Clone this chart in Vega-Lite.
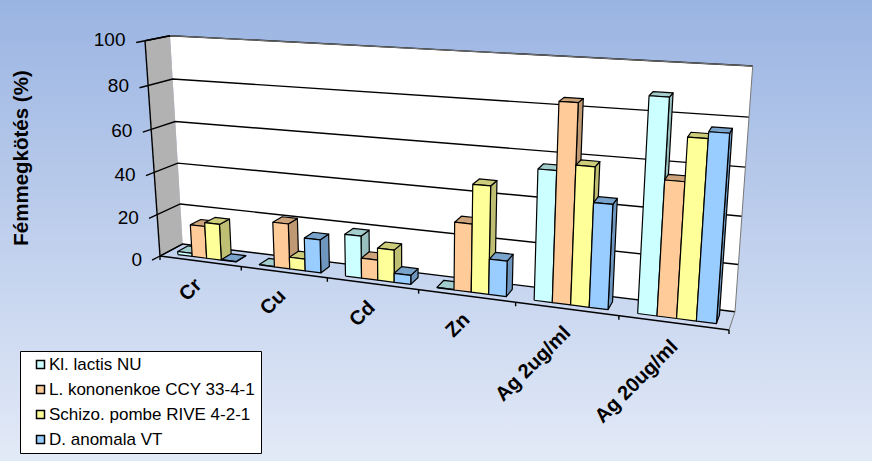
{
"$schema":"https://vega.github.io/schema/vega-lite/v6.json",
"width":872,"height":461,
"autosize":{"type":"fit","contains":"padding"},
"padding":0,
"view":{"stroke":null,"fill":{"gradient":"linear","x1":0,"y1":0,"x2":0,"y2":1,"stops":[{"offset":0,"color":"#9ab4e2"},{"offset":1,"color":"#e3eaf7"}]}},
"config":{"font":"Liberation Sans"},
"datasets":{
"bars":[
{"cat":0,"ser":0,"series":"Kl. lactis NU","category":"Cr","value":1.5},
{"cat":0,"ser":1,"series":"L. kononenkoe CCY 33-4-1","category":"Cr","value":15.3},
{"cat":0,"ser":2,"series":"Schizo. pombe RIVE 4-2-1","category":"Cr","value":17.1},
{"cat":0,"ser":3,"series":"D. anomala VT","category":"Cr","value":0.2},
{"cat":1,"ser":0,"series":"Kl. lactis NU","category":"Cu","value":0.2},
{"cat":1,"ser":1,"series":"L. kononenkoe CCY 33-4-1","category":"Cu","value":21},
{"cat":1,"ser":2,"series":"Schizo. pombe RIVE 4-2-1","category":"Cu","value":5.5},
{"cat":1,"ser":3,"series":"D. anomala VT","category":"Cu","value":15.3},
{"cat":2,"ser":0,"series":"Kl. lactis NU","category":"Cd","value":19.2},
{"cat":2,"ser":1,"series":"L. kononenkoe CCY 33-4-1","category":"Cd","value":9.2},
{"cat":2,"ser":2,"series":"Schizo. pombe RIVE 4-2-1","category":"Cd","value":14.6},
{"cat":2,"ser":3,"series":"D. anomala VT","category":"Cd","value":4.1},
{"cat":3,"ser":0,"series":"Kl. lactis NU","category":"Zn","value":0.2},
{"cat":3,"ser":1,"series":"L. kononenkoe CCY 33-4-1","category":"Zn","value":30},
{"cat":3,"ser":2,"series":"Schizo. pombe RIVE 4-2-1","category":"Zn","value":47.1},
{"cat":3,"ser":3,"series":"D. anomala VT","category":"Zn","value":15.6},
{"cat":4,"ser":0,"series":"Kl. lactis NU","category":"Ag 2ug/ml","value":56},
{"cat":4,"ser":1,"series":"L. kononenkoe CCY 33-4-1","category":"Ag 2ug/ml","value":84.2},
{"cat":4,"ser":2,"series":"Schizo. pombe RIVE 4-2-1","category":"Ag 2ug/ml","value":58.9},
{"cat":4,"ser":3,"series":"D. anomala VT","category":"Ag 2ug/ml","value":44.2},
{"cat":5,"ser":0,"series":"Kl. lactis NU","category":"Ag 20ug/ml","value":88.7},
{"cat":5,"ser":1,"series":"L. kononenkoe CCY 33-4-1","category":"Ag 20ug/ml","value":56},
{"cat":5,"ser":2,"series":"Schizo. pombe RIVE 4-2-1","category":"Ag 20ug/ml","value":73.6},
{"cat":5,"ser":3,"series":"D. anomala VT","category":"Ag 20ug/ml","value":76.3}
],
"cats":[{"cat":0,"label":"Cr"},{"cat":1,"label":"Cu"},{"cat":2,"label":"Cd"},{"cat":3,"label":"Zn"},{"cat":4,"label":"Ag 2ug/ml"},{"cat":5,"label":"Ag 20ug/ml"}],
"ticks":[{"cat":0},{"cat":1},{"cat":2},{"cat":3},{"cat":4},{"cat":5},{"cat":6}],
"levels":[{"v":0},{"v":20},{"v":40},{"v":60},{"v":80},{"v":100}],
"walls":[
{"wall":"back","k":0,"u":0,"d":1,"h":0},{"wall":"back","k":1,"u":1,"d":1,"h":0},{"wall":"back","k":2,"u":1,"d":1,"h":1},{"wall":"back","k":3,"u":0,"d":1,"h":1},{"wall":"back","k":4,"u":0,"d":1,"h":0},
{"wall":"left","k":0,"u":0,"d":0,"h":0},{"wall":"left","k":1,"u":0,"d":1,"h":0},{"wall":"left","k":2,"u":0,"d":1,"h":1},{"wall":"left","k":3,"u":0,"d":0,"h":1},{"wall":"left","k":4,"u":0,"d":0,"h":0}
],
"edges":[
{"e":"front","k":0,"u":0,"d":0,"h":0},{"e":"front","k":1,"u":1,"d":0,"h":0},
{"e":"leftaxis","k":0,"u":0,"d":0,"h":0},{"e":"leftaxis","k":1,"u":0,"d":0,"h":1},
{"e":"lefttop","k":0,"u":0,"d":0,"h":1},{"e":"lefttop","k":1,"u":0,"d":1,"h":1},
{"e":"leftfloor","k":0,"u":0,"d":0,"h":0},{"e":"leftfloor","k":1,"u":0,"d":1,"h":0}
],
"greyedges":[
{"e":"top","k":0,"u":0,"d":1,"h":1},{"e":"top","k":1,"u":1,"d":1,"h":1},
{"e":"rightwall","k":0,"u":1,"d":1,"h":1},{"e":"rightwall","k":1,"u":1,"d":1,"h":0},
{"e":"rightfloor","k":0,"u":1,"d":1,"h":0},{"e":"rightfloor","k":1,"u":1,"d":0,"h":0}
]
},
"layer":[
{"data":{"name":"walls"},
"transform":[
{"calculate":"datum.u/(datum.u+1.2*(1-datum.u))","as":"su"},
{"calculate":"datum.h/(datum.h+1.05*(1-datum.h))","as":"sh"},
{"calculate":"lerp([lerp([160+569*datum.su,182.7+552.3*datum.su],datum.d),lerp([145+602.5*datum.su,170+582.7*datum.su],datum.d)],datum.sh)","as":"px"},
{"calculate":"lerp([lerp([256+74*datum.su,244+67.7*datum.su],datum.d),lerp([40.7+33.3*datum.su,35.7+30.3*datum.su],datum.d)],datum.sh)","as":"py"}],
"mark":{"type":"line","strokeWidth":0,"interpolate":"linear"},
"encoding":{
"x":{"field":"px","type":"quantitative","scale":{"domain":[0,872],"nice":false,"zero":false},"axis":null},
"y":{"field":"py","type":"quantitative","scale":{"domain":[0,461],"reverse":true,"nice":false,"zero":false},"axis":{"title":"Fémmegkötés (%)","titleX":31.5,"titleY":157.5,"titleFont":"Liberation Sans","titleFontSize":20.5,"titleFontWeight":"bold","titleColor":"#000","labels":false,"ticks":false,"domain":false,"grid":false}},
"detail":{"field":"wall"},
"order":{"field":"k","type":"quantitative"},
"fill":{"field":"wall","type":"nominal","scale":{"domain":["back","left"],"range":["#ffffff","#b2b2b2"]},"legend":null}
}},
{"data":{"name":"levels"},
"transform":[
{"calculate":"[{k:0,u:0,d:0},{k:1,u:0,d:1},{k:2,u:1,d:1}]","as":"pt"},
{"flatten":["pt"]},
{"calculate":"datum.pt.u","as":"u"},{"calculate":"datum.pt.d","as":"d"},{"calculate":"datum.pt.k","as":"k"},
{"calculate":"datum.v/100","as":"h"},
{"calculate":"datum.u/(datum.u+1.2*(1-datum.u))","as":"su"},
{"calculate":"datum.h/(datum.h+1.05*(1-datum.h))","as":"sh"},
{"calculate":"lerp([lerp([160+569*datum.su,182.7+552.3*datum.su],datum.d),lerp([145+602.5*datum.su,170+582.7*datum.su],datum.d)],datum.sh)","as":"px"},
{"calculate":"lerp([lerp([256+74*datum.su,244+67.7*datum.su],datum.d),lerp([40.7+33.3*datum.su,35.7+30.3*datum.su],datum.d)],datum.sh)","as":"py"}],
"mark":{"type":"line","color":"#000","strokeWidth":1.4},
"encoding":{"x":{"field":"px","type":"quantitative"},"y":{"field":"py","type":"quantitative"},"detail":{"field":"v"},"order":{"field":"k","type":"quantitative"}}},
{"data":{"name":"greyedges"},
"transform":[
{"calculate":"datum.u/(datum.u+1.2*(1-datum.u))","as":"su"},
{"calculate":"datum.h/(datum.h+1.05*(1-datum.h))","as":"sh"},
{"calculate":"lerp([lerp([160+569*datum.su,182.7+552.3*datum.su],datum.d),lerp([145+602.5*datum.su,170+582.7*datum.su],datum.d)],datum.sh)","as":"px"},
{"calculate":"lerp([lerp([256+74*datum.su,244+67.7*datum.su],datum.d),lerp([40.7+33.3*datum.su,35.7+30.3*datum.su],datum.d)],datum.sh)","as":"py"}],
"mark":{"type":"line","color":"#777","strokeWidth":1},
"encoding":{"x":{"field":"px","type":"quantitative"},"y":{"field":"py","type":"quantitative"},"detail":{"field":"e"},"order":{"field":"k","type":"quantitative"}}},
{"data":{"name":"edges"},
"transform":[
{"calculate":"datum.u/(datum.u+1.2*(1-datum.u))","as":"su"},
{"calculate":"datum.h/(datum.h+1.05*(1-datum.h))","as":"sh"},
{"calculate":"lerp([lerp([160+569*datum.su,182.7+552.3*datum.su],datum.d),lerp([145+602.5*datum.su,170+582.7*datum.su],datum.d)],datum.sh)","as":"px"},
{"calculate":"lerp([lerp([256+74*datum.su,244+67.7*datum.su],datum.d),lerp([40.7+33.3*datum.su,35.7+30.3*datum.su],datum.d)],datum.sh)","as":"py"}],
"mark":{"type":"line","color":"#000","strokeWidth":1.4},
"encoding":{"x":{"field":"px","type":"quantitative"},"y":{"field":"py","type":"quantitative"},"detail":{"field":"e"},"order":{"field":"k","type":"quantitative"}}},
{"data":{"name":"levels"},
"transform":[
{"calculate":"[{k:0,d:0},{k:1,d:-0.35}]","as":"pt"},
{"flatten":["pt"]},
{"calculate":"datum.pt.d","as":"d"},{"calculate":"datum.pt.k","as":"k"},
{"calculate":"datum.v/100","as":"h"},
{"calculate":"datum.h/(datum.h+1.05*(1-datum.h))","as":"sh"},
{"calculate":"lerp([lerp([160,182.7],datum.d),lerp([145,170],datum.d)],datum.sh)","as":"px"},
{"calculate":"lerp([lerp([256,244],datum.d),lerp([40.7,35.7],datum.d)],datum.sh)","as":"py"}],
"mark":{"type":"line","color":"#000","strokeWidth":1.4},
"encoding":{"x":{"field":"px","type":"quantitative"},"y":{"field":"py","type":"quantitative"},"detail":{"field":"v"},"order":{"field":"k","type":"quantitative"}}},
{"data":{"name":"levels"},
"transform":[
{"calculate":"datum.v/100","as":"h"},
{"calculate":"datum.h/(datum.h+1.05*(1-datum.h))","as":"sh"},
{"calculate":"lerp([lerp([160,182.7],-0.7),lerp([145,170],-0.7)],datum.sh)","as":"px"},
{"calculate":"lerp([lerp([256,244],-0.7),lerp([40.7,35.7],-0.7)],datum.sh)","as":"py"}],
"mark":{"type":"text","align":"right","baseline":"middle","font":"Liberation Sans","fontSize":19,"color":"#000","dx":-2,"dy":-4},
"encoding":{"x":{"field":"px","type":"quantitative"},"y":{"field":"py","type":"quantitative"},"text":{"field":"v","type":"nominal"}}},
{"data":{"name":"ticks"},
"transform":[
{"calculate":"[{k:0},{k:1}]","as":"pt"},
{"flatten":["pt"]},
{"calculate":"datum.pt.k","as":"k"},
{"calculate":"datum.cat/6","as":"u"},
{"calculate":"datum.u/(datum.u+1.2*(1-datum.u))","as":"su"},
{"calculate":"160+569*datum.su","as":"px"},
{"calculate":"256+74*datum.su+datum.k*4","as":"py"}],
"mark":{"type":"line","color":"#000","strokeWidth":1.4},
"encoding":{"x":{"field":"px","type":"quantitative"},"y":{"field":"py","type":"quantitative"},"detail":{"field":"cat"},"order":{"field":"k","type":"quantitative"}}},
{"data":{"name":"cats"},
"transform":[
{"calculate":"(datum.cat+0.5)/6","as":"u"},
{"calculate":"datum.u/(datum.u+1.2*(1-datum.u))","as":"su"},
{"calculate":"160+569*datum.su-4*(1-datum.su)","as":"px"},
{"calculate":"256+74*datum.su+23","as":"py"}],
"mark":{"type":"text","align":"right","baseline":"middle","angle":315,"font":"Liberation Sans","fontSize":20,"fontWeight":"bold","color":"#000","dx":3},
"encoding":{"x":{"field":"px","type":"quantitative"},"y":{"field":"py","type":"quantitative"},"text":{"field":"label","type":"nominal"}}},
{"data":{"name":"bars"},
"transform":[
{"calculate":"[{f:'side',k:0,a:1,b:0.25,c:0},{f:'side',k:1,a:1,b:0.72,c:0},{f:'side',k:2,a:1,b:0.72,c:1},{f:'side',k:3,a:1,b:0.25,c:1},{f:'side',k:4,a:1,b:0.25,c:0},{f:'top',k:0,a:0,b:0.25,c:1},{f:'top',k:1,a:1,b:0.25,c:1},{f:'top',k:2,a:1,b:0.72,c:1},{f:'top',k:3,a:0,b:0.72,c:1},{f:'top',k:4,a:0,b:0.25,c:1},{f:'front',k:0,a:0,b:0.25,c:0},{f:'front',k:1,a:1,b:0.25,c:0},{f:'front',k:2,a:1,b:0.25,c:1},{f:'front',k:3,a:0,b:0.25,c:1},{f:'front',k:4,a:0,b:0.25,c:0}]","as":"pt"},
{"flatten":["pt"]},
{"calculate":"datum.pt.k","as":"k"},
{"calculate":"datum.pt.b","as":"d"},
{"calculate":"datum.cat+'-'+datum.ser+'-'+datum.pt.f","as":"face"},
{"calculate":"datum.pt.f=='front'?datum.series:datum.series+'|'+datum.pt.f","as":"shade"},
{"calculate":"(datum.cat+0.155+(datum.ser+datum.pt.a)*0.18)/6","as":"u"},
{"calculate":"datum.pt.c*datum.value/100","as":"h"},
{"calculate":"datum.u/(datum.u+1.2*(1-datum.u))","as":"su"},
{"calculate":"datum.h/(datum.h+1.05*(1-datum.h))","as":"sh"},
{"calculate":"lerp([lerp([160+569*datum.su,182.7+552.3*datum.su],datum.d),lerp([145+602.5*datum.su,170+582.7*datum.su],datum.d)],datum.sh)","as":"px"},
{"calculate":"lerp([lerp([256+74*datum.su,244+67.7*datum.su],datum.d),lerp([40.7+33.3*datum.su,35.7+30.3*datum.su],datum.d)],datum.sh)","as":"py"}],
"mark":{"type":"line","stroke":"#000","strokeWidth":1.2,"strokeJoin":"round"},
"encoding":{
"x":{"field":"px","type":"quantitative"},
"y":{"field":"py","type":"quantitative"},
"detail":{"field":"face"},
"order":{"field":"k","type":"quantitative"},
"fill":{"field":"shade","type":"nominal","scale":{"domain":["Kl. lactis NU","L. kononenkoe CCY 33-4-1","Schizo. pombe RIVE 4-2-1","D. anomala VT","Kl. lactis NU|side","L. kononenkoe CCY 33-4-1|side","Schizo. pombe RIVE 4-2-1|side","D. anomala VT|side","Kl. lactis NU|top","L. kononenkoe CCY 33-4-1|top","Schizo. pombe RIVE 4-2-1|top","D. anomala VT|top"],"range":["#ccffff","#ffcc99","#ffff99","#99ccff","#99bfbf","#bf9973","#bfbf73","#6f96bf","#a3cccc","#cca37a","#cccc7a","#7aa3cc"]},
"legend":{"values":["Kl. lactis NU","L. kononenkoe CCY 33-4-1","Schizo. pombe RIVE 4-2-1","D. anomala VT"],"title":null,"orient":"none","legendX":20,"legendY":351,"fillColor":"#fff","strokeColor":"#000","padding":5,"symbolType":"square","symbolSize":64,"symbolOffset":7,"symbolStrokeColor":"#000","symbolStrokeWidth":1.5,"labelFont":"Liberation Sans","labelFontSize":17,"labelLimit":400,"labelColor":"#000","rowPadding":7,"labelOffset":0,"offset":0}}
}}
],
"resolve":{"scale":{"fill":"independent"}}
}
